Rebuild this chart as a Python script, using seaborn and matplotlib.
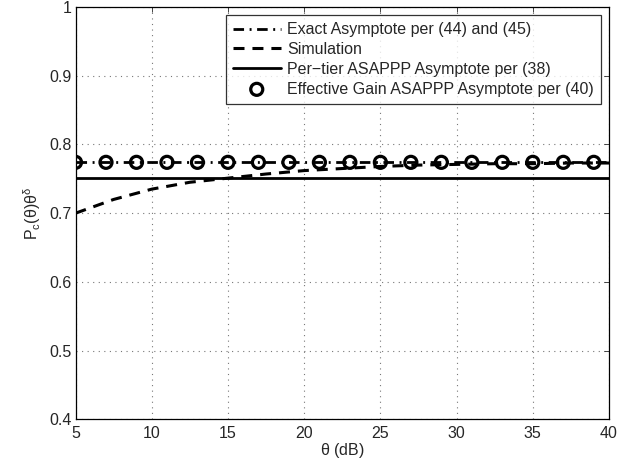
import numpy as np
import matplotlib
matplotlib.use("Agg")
import matplotlib.pyplot as plt
import seaborn as sns

# Values
theta_db = [5, 7.5, 10, 12.5, 15, 17.5, 20, 22.5, 25, 27.5, 30, 32.5, 35, 37.5, 40]
simulation = [0.700, 0.720, 0.735, 0.745, 0.751, 0.757, 0.762, 0.765, 0.768, 0.770,
              0.771, 0.772, 0.772, 0.773, 0.773]
exact_x = [5, 40]
exact_y = [0.774, 0.774]
per_tier_x = [5, 40]
per_tier_y = [0.751, 0.751]
eff_gain_x = list(range(5, 40, 2))
eff_gain_y = [0.774] * len(eff_gain_x)

sns.set_style("white")
plt.rcParams["font.family"] = ["Liberation Sans", "DejaVu Sans"]
plt.rcParams["mathtext.fontset"] = "custom"
plt.rcParams["mathtext.rm"] = "Liberation Sans"
plt.rcParams["mathtext.it"] = "Liberation Sans:italic"
plt.rcParams["font.size"] = 11.5

fig = plt.figure(figsize=(6.24, 4.65), dpi=100)
ax = fig.add_axes([0.121, 0.098, 0.855, 0.887])

sns.lineplot(x=exact_x, y=exact_y, ax=ax, color="black", lw=2,
             linestyle=(0, (3.8, 2, 0.7, 2)), label="Exact Asymptote per (44) and (45)")
sns.lineplot(x=theta_db, y=simulation, ax=ax, color="black", lw=2.2,
             linestyle=(0, (3.6, 2.6)), label="Simulation")
sns.lineplot(x=per_tier_x, y=per_tier_y, ax=ax, color="black", lw=2,
             linestyle="-", label="Per\u2212tier ASAPPP Asymptote per (38)")
sns.scatterplot(x=eff_gain_x, y=eff_gain_y, ax=ax, marker="o", s=75,
                facecolor="none", edgecolor="black", linewidth=2.3,
                label="Effective Gain ASAPPP Asymptote per (40)", zorder=5)

ax.set_xlim(5, 40)
ax.set_ylim(0.4, 1.0)
ax.set_xticks(range(5, 41, 5))
ax.set_yticks(np.arange(0.4, 1.01, 0.1))
ax.set_yticklabels(["0.4", "0.5", "0.6", "0.7", "0.8", "0.9", "1"])
ax.set_xlabel(r"$\mathregular{\theta}$ (dB)", labelpad=0)
ax.set_ylabel(r"$\mathregular{P_c(\theta)\theta^\delta}$", labelpad=4)
ax.grid(True, linestyle=(0, (1, 4)), color="#777777", lw=0.8)
ax.tick_params(direction="in", top=True, right=True, length=3.5, width=0.6)
ax.tick_params(axis="x", pad=5)
ax.tick_params(axis="y", pad=3)
for sp in ax.spines.values():
    sp.set_linewidth(0.9)
    sp.set_color("black")

leg = ax.legend(loc="upper right", frameon=True, fancybox=False, borderpad=0.45,
                labelspacing=0.3, handlelength=3.0, handletextpad=0.4,
                borderaxespad=0.5)
leg.get_frame().set_edgecolor("black")
leg.get_frame().set_linewidth(0.9)

fig.savefig("out.png", dpi=100)
